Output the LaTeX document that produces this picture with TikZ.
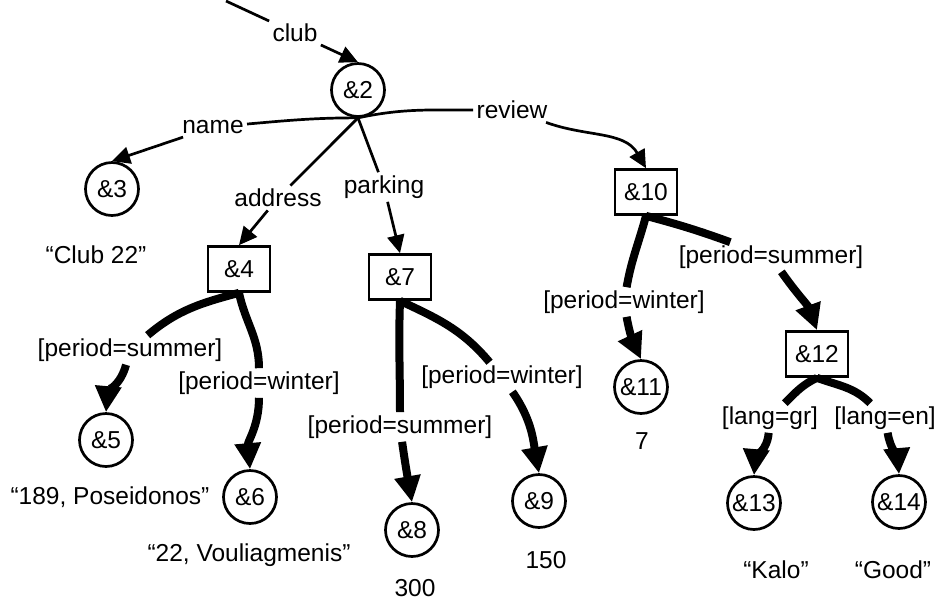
\documentclass[tikz,border=0pt]{standalone}
\usepackage{fontspec}
\setmainfont{Liberation Sans}
\usetikzlibrary{arrows.meta}

\begin{document}
\begin{tikzpicture}[x=0.5pt,y=0.5pt,
    every node/.style={font=\fontsize{12.25}{14}\selectfont},
    objnode/.style={draw,circle,line width=1.35pt,minimum size=26.5pt,inner sep=0pt},
    setnode/.style={draw,rectangle,line width=1.35pt,minimum width=31pt,minimum height=22.5pt,inner sep=0pt},
    lbl/.style={inner sep=1.5pt},
    thinedge/.style={line width=1.35pt},
    thinarrow/.style={thinedge,-{Triangle[length=9pt,width=8.5pt]}},
    thickedge/.style={line width=4pt},
    thickarrow/.style={thickedge,-{Triangle[length=13pt,width=12.5pt]}}]
  \useasboundingbox (0,0) rectangle (939,-607);

  % objects
  \node[objnode] (n2) at (358,-90) {\&2};
  \node[objnode] (n3) at (112,-189) {\&3};
  \node[setnode] (n4) at (239,-269) {\&4};
  \node[objnode] (n5) at (106,-440) {\&5};
  \node[objnode] (n6) at (250,-497) {\&6};
  \node[setnode] (n7) at (400,-277) {\&7};
  \node[objnode] (n8) at (412,-530) {\&8};
  \node[objnode] (n9) at (539,-501) {\&9};
  \node[setnode] (n10) at (646,-192) {\&10};
  \node[objnode] (n11) at (641,-387) {\&11};
  \node[setnode] (n12) at (817,-354) {\&12};
  \node[objnode] (n13) at (754,-503) {\&13};
  \node[objnode] (n14) at (899,-502) {\&14};

  % atomic values
  \node (v3) at (96,-255) {“Club 22”};
  \node (v5) at (110,-497) {“189, Poseidonos”};
  \node (v6) at (249,-555) {“22, Vouliagmenis”};
  \node (v8) at (415,-588) {300};
  \node (v9) at (546,-560) {150};
  \node (v11) at (642,-441) {7};
  \node (v13) at (776,-570) {“Kalo”};
  \node (v14) at (893,-570) {“Good”};

  % edge labels
  \node[lbl] (lclub) at (295,-33) {club};
  \node[lbl] (lname) at (213,-127) {name};
  \node[lbl] (lreview) at (512,-110) {review};
  \node[lbl] (laddress) at (278,-198) {address};
  \node[lbl] (lparking) at (384,-187) {parking};
  \node[lbl] (l45) at (130,-350) {[period=summer]};
  \node[lbl] (l46) at (259,-383) {[period=winter]};
  \node[lbl] (l78) at (400,-427) {[period=summer]};
  \node[lbl] (l79) at (502,-377) {[period=winter]};
  \node[lbl] (l1011) at (624,-302) {[period=winter]};
  \node[lbl] (l1012) at (771,-257) {[period=summer]};
  \node[lbl] (lgr) at (770,-418) {[lang=gr]};
  \node[lbl] (len) at (885,-418) {[lang=en]};

  % thin edges
  \coordinate (root) at (226,-1);
  \draw[thinedge] (root) -- (lclub);
  \draw[thinarrow] (lclub) -- (n2.north);
  \draw[thinedge] (n2.south) to[out=180,in=5] (lname);
  \draw[thinarrow] (lname) -- (n3.north);
  \draw[thinedge] (n2.south) to[out=12,in=180] (lreview);
  \draw[thinarrow] (lreview) to[out=-20,in=120] (n10.north);
  \draw[thinedge] (n2.south) -- (laddress);
  \draw[thinarrow] (laddress) -- (n4.north);
  \draw[thinedge] (n2.south) -- (lparking);
  \draw[thinarrow] (lparking) -- (n7.north);

  % thick edges
  \draw[thickedge] (n4.south) to[out=195,in=40] (l45);
  \draw[thickarrow] (l45) to[out=-105,in=85] (n5.north);
  \draw[thickedge] (n4.south) to[out=-78,in=90] (l46);
  \draw[thickarrow] (l46) to[out=-90,in=95] (n6.north);
  \draw[thickedge] (n7.south) to[out=-92,in=90] (l78);
  \draw[thickarrow] (l78) to[out=-82,in=100] (n8.north);
  \draw[thickedge] (n7.south) to[out=-25,in=130] (l79);
  \draw[thickarrow] (l79) to[out=-55,in=100] (n9.north);
  \draw[thickedge] (n10.south) to[out=-105,in=80] (l1011);
  \draw[thickarrow] (l1011) to[out=-80,in=115] (n11.north);
  \draw[thickedge] (n10.south) to[out=-15,in=160] (l1012);
  \draw[thickarrow] (l1012) to[out=-55,in=110] (n12.north);
  \draw[thickedge] (n12.south) to[out=-155,in=45] (lgr);
  \draw[thickarrow] (lgr) to[out=-95,in=85] (n13.north);
  \draw[thickedge] (n12.south) to[out=-20,in=135] (len);
  \draw[thickarrow] (len) to[out=-80,in=95] (n14.north);
\end{tikzpicture}
\end{document}
